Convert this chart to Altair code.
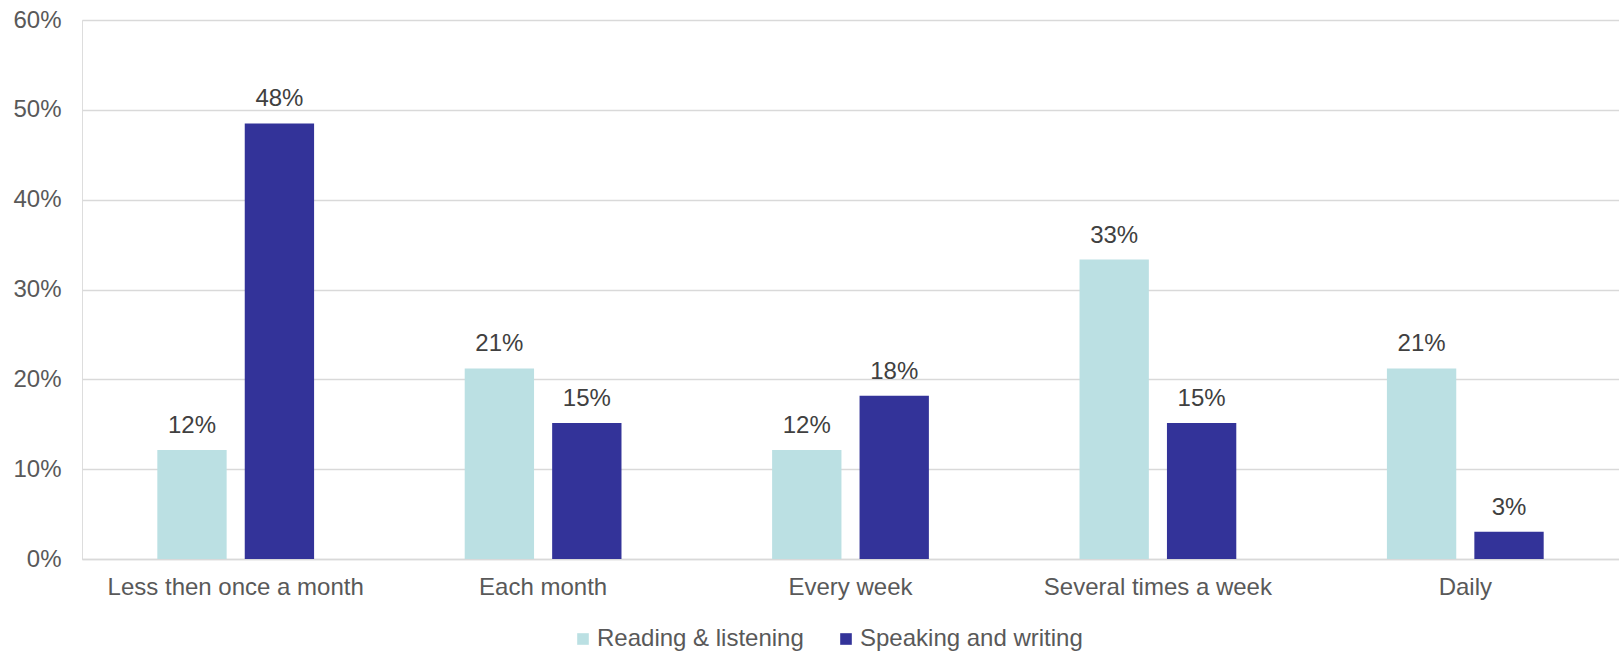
import altair as alt
import pandas as pd

categories = ["Less then once a month", "Each month", "Every week", "Several times a week", "Daily"]
series = ["Reading & listening", "Speaking and writing"]
reading = [0.1212, 0.2121, 0.1212, 0.3333, 0.2121]
speaking = [0.4848, 0.1515, 0.1818, 0.1515, 0.0303]
colors = ["#BBE0E3", "#333399"]

rows = []
for c, r, s in zip(categories, reading, speaking):
    rows.append({"cat": c, "series": series[0], "value": r})
    rows.append({"cat": c, "series": series[1], "value": s})
df = pd.DataFrame(rows)

FONT = "Liberation Sans"

x = alt.X("cat:N", sort=categories, title=None,
          scale=alt.Scale(paddingInner=0.49, paddingOuter=0.245),
          axis=alt.Axis(labelAngle=0, labelFontSize=24, labelColor="#595959", labelFont=FONT,
                        labelLimit=0, ticks=False, domainColor="#D9D9D9", domainWidth=1.5,
                        labelPadding=16))
xo = alt.XOffset("series:N", sort=series, scale=alt.Scale(paddingInner=0.207, paddingOuter=0))
y = alt.Y("value:Q", title=None,
          scale=alt.Scale(domain=[0, 0.6], nice=False),
          axis=alt.Axis(format=".0%", values=[0, 0.1, 0.2, 0.3, 0.4, 0.5, 0.6], labelFontSize=24,
                        labelColor="#595959", labelFont=FONT, ticks=False, domain=False,
                        gridColor="#D9D9D9", gridWidth=1.5, labelPadding=21))

bars = alt.Chart(df).mark_bar().encode(
    x=x, xOffset=xo, y=y,
    color=alt.Color("series:N", sort=series,
                    scale=alt.Scale(domain=series, range=colors),
                    legend=alt.Legend(title=None, orient="none", direction="horizontal",
                                      legendX=489, legendY=607, padding=0, symbolType="square",
                                      symbolSize=135, symbolStrokeWidth=0, labelFontSize=24,
                                      labelColor="#595959", labelFont=FONT, labelOffset=2,
                                      labelLimit=0, columnPadding=30, symbolOffset=0)),
)

labels = alt.Chart(df).mark_text(baseline="alphabetic", dy=-17, fontSize=24, color="#404040",
                                 font=FONT).encode(
    x=alt.X("cat:N", sort=categories), xOffset=alt.XOffset("series:N", sort=series), y="value:Q",
    text=alt.Text("value:Q", format=".0%"),
)

chart = alt.layer(bars, labels).properties(
    width=1537, height=539,
    autosize=alt.AutoSizeParams(type="none"),
    padding={"left": 82, "top": 20, "right": 0, "bottom": 94},
).configure_view(stroke=None).configure(background="white")

chart.save("out.html", embed_options={"renderer": "svg", "actions": False})
